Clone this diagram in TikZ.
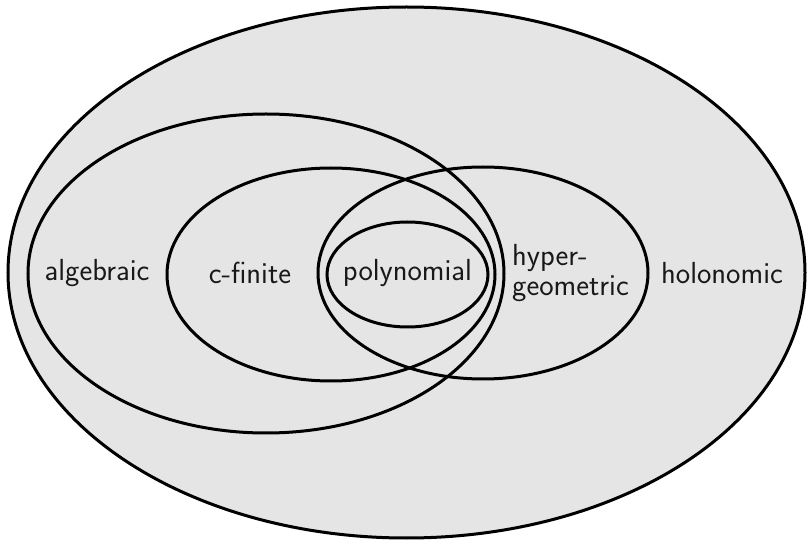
\documentclass[tikz,border=0pt]{standalone}
\begin{document}
\begin{tikzpicture}[x=1pt,y=-1pt,
  set/.style={draw=black,line width=3pt},
  lbl/.style={font=\sffamily\fontsize{30.5}{35}\selectfont,text=black!90,inner sep=0pt}]
\useasboundingbox (0,0) rectangle (807,540);
\draw[set,fill=black!10] (406.5,272.5) ellipse [x radius=398.5,y radius=265.5];
\draw[set] (266,273.5) ellipse [x radius=238,y radius=159.5];
\draw[set] (331,274.5) ellipse [x radius=164,y radius=106.5];
\draw[set] (483,273) ellipse [x radius=165,y radius=106];
\draw[set] (407.5,274.5) ellipse [x radius=80.5,y radius=52.5];
\node[lbl] (alg) at (97,273) {algebraic};
\node[lbl] (cfin) at (250,273) {c-finite};
\node[lbl] (poly) at (407.5,273) {polynomial};
\node[lbl,anchor=west,align=left] (hyp) at (512,273) {hyper-\\[-5pt]geometric};
\node[lbl] (hol) at (722,273) {holonomic};
\end{tikzpicture}
\end{document}
